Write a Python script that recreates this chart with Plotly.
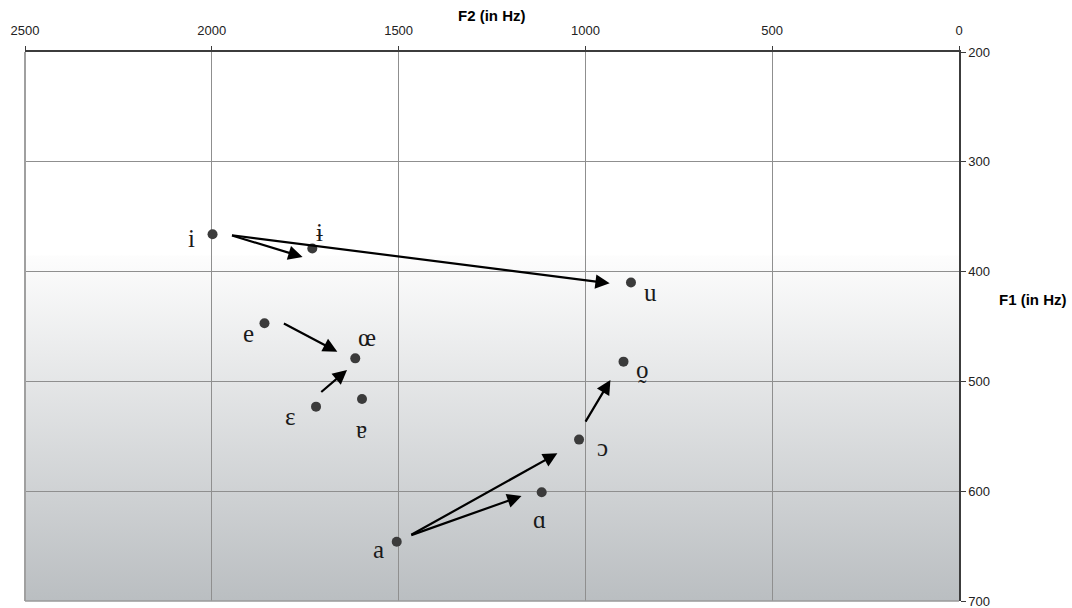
import base64
import plotly.graph_objects as go

# ---- data ----
vowels = ["i", "ɨ", "u", "e", "œ", "ɐ", "ɛ", "o̰", "ɔ", "ɑ", "a"]
f2_hz = [1998, 1731, 878, 1859, 1616, 1598, 1721, 898, 1017, 1117, 1505]
f1_hz = [366, 379, 410, 447, 479, 516, 523, 482, 553, 601, 646]

# arrows: start (F2, F1) -> end (F2, F1)
arrow_f2_start = [1950, 1950, 1811, 1711, 1002, 1470, 1470]
arrow_f1_start = [366.7, 366.7, 446.5, 510.8, 538, 640.5, 640.5]
arrow_f2_end = [935, 1757, 1664, 1638, 933, 1171, 1075]
arrow_f1_end = [410.7, 386.7, 473, 489.6, 498.7, 604.4, 565.5]

x_ticks = [0, 500, 1000, 1500, 2000, 2500]
y_ticks = [200, 300, 400, 500, 600, 700]

# ---- styling ----
label_offsets = {  # pixel offsets of labels from their point (dx, dy up)
    "i": (-21, -4), "ɨ": (7, 16), "u": (20, -10), "e": (-16, -10),
    "œ": (12, 21), "ɐ": (0, -31), "ɛ": (-26, -10), "o̰": (19, -8),
    "ɔ": (23, -8), "ɑ": (-2, -27), "a": (-18, -8),
}

fig = go.Figure()
fig.add_trace(go.Scatter(
    x=f2_hz, y=f1_hz, mode="markers",
    marker=dict(size=10, color="#3b3b3b"),
    hoverinfo="skip", showlegend=False,
))

annotations = []
for v, x, y in zip(vowels, f2_hz, f1_hz):
    dx, dy = label_offsets[v]
    annotations.append(dict(
        x=x, y=y, xref="x", yref="y", text=v, showarrow=False,
        xshift=dx, yshift=dy, xanchor="center", yanchor="middle",
        font=dict(family="Liberation Serif, DejaVu Serif, serif", size=25, color="#1a1a1a"),
    ))
for x0, y0, x1, y1 in zip(arrow_f2_start, arrow_f1_start, arrow_f2_end, arrow_f1_end):
    annotations.append(dict(
        x=x1, y=y1, ax=x0, ay=y0,
        xref="x", yref="y", axref="x", ayref="y", text="",
        showarrow=True, arrowhead=2, arrowsize=1.3, arrowwidth=2.2,
        arrowcolor="#000000",
    ))
annotations.append(dict(
    x=0.5, y=1, xref="paper", yref="paper", yshift=37, yanchor="middle",
    text="<b>F2 (in Hz)</b>", showarrow=False,
    font=dict(family="Liberation Sans, Arial, sans-serif", size=15, color="#000"),
))
annotations.append(dict(
    x=1, y=425, xref="paper", yref="y", xshift=38, xanchor="left", yanchor="middle",
    text="<b>F1 (in Hz)</b>", showarrow=False,
    font=dict(family="Liberation Sans, Arial, sans-serif", size=15, color="#000"),
))

# smooth background gradient (white -> gray) in the lower part of the plot
svg = ('<svg xmlns="http://www.w3.org/2000/svg" width="100" height="100" preserveAspectRatio="none">'
       '<defs><linearGradient id="g" x1="0" y1="0" x2="0" y2="1">'
       '<stop offset="0" stop-color="rgb(253,253,253)"/>'
       '<stop offset="1" stop-color="rgb(186,190,193)"/>'
       '</linearGradient></defs><rect width="100" height="100" fill="url(#g)"/></svg>')
src = "data:image/svg+xml;base64," + base64.b64encode(svg.encode()).decode()
g_top, g_bot = 385, 700
images = [dict(source=src, xref="paper", yref="y", x=0, y=g_top, sizex=1,
               sizey=g_bot - g_top, xanchor="left", yanchor="top",
               sizing="stretch", layer="below")]

shapes = [
    dict(type="line", xref="paper", yref="paper", x0=0, x1=0, y0=0, y1=1,
         line=dict(color="#a0a0a0", width=2), layer="above"),
    dict(type="line", xref="paper", yref="paper", x0=0, x1=1, y0=0, y1=0,
         line=dict(color="#9a9a9a", width=1.5), layer="above"),
]

tickfont = dict(family="Liberation Sans, Arial, sans-serif", size=13, color="#222")
fig.update_layout(
    width=1072, height=608,
    margin=dict(l=25, r=113, t=52, b=7, autoexpand=False),
    paper_bgcolor="white", plot_bgcolor="white",
    annotations=annotations, shapes=shapes, images=images,
    xaxis=dict(range=[2500, 0], side="top", tickvals=x_ticks,
               ticktext=[str(t) for t in x_ticks], automargin=False,
               showgrid=True, gridcolor="#8f8f8f", gridwidth=1,
               showline=True, linecolor="#3c3c3c", linewidth=1.5,
               ticks="outside", ticklen=4, tickcolor="#3c3c3c",
               ticklabelstandoff=6, ticklabeloverflow="allow",
               tickfont=tickfont, zeroline=False, fixedrange=True),
    yaxis=dict(range=[700, 200], side="right", tickvals=y_ticks, automargin=False,
               showgrid=True, gridcolor="#8f8f8f", gridwidth=1,
               showline=True, linecolor="#3c3c3c", linewidth=1.5,
               ticks="outside", ticklen=5, tickcolor="#3c3c3c",
               ticklabeloverflow="allow",
               tickfont=tickfont, zeroline=False, fixedrange=True),
)

fig.write_html("out.html")
